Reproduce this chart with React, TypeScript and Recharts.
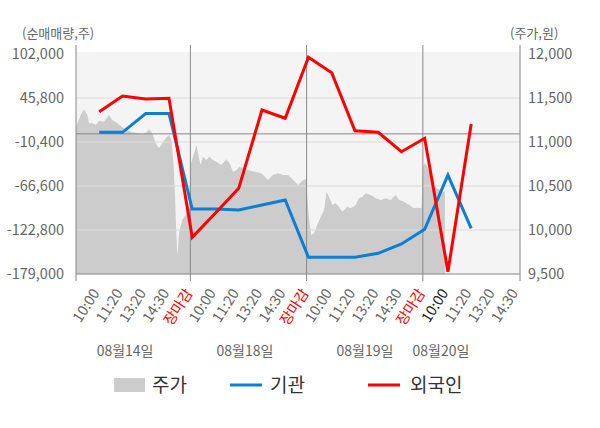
import React from 'react';
import { ComposedChart, Area, Line, XAxis, YAxis, ReferenceLine, ReferenceArea, Legend } from 'recharts';

// ---- axis ticks ----
const leftTicks = [-179000, -122800, -66600, -10400, 45800, 102000];
const rightTicks = [9500, 10000, 10500, 11000, 11500, 12000];
const leftDomain = [-179000, 113495];
const rightDomain = [9500, 12102.3];
const xDomain = [0, 19.1];

// time labels (slot positions)
const timeSlots = [1, 2, 3, 4, 5, 6, 7, 8, 9, 10, 11, 12, 13, 14, 15, 16, 17, 18, 19];
const timeLabels = [
  '10:00', '11:20', '13:20', '14:30', '장마감',
  '10:00', '11:20', '13:20', '14:30', '장마감',
  '10:00', '11:20', '13:20', '14:30', '장마감',
  '10:00', '11:20', '13:20', '14:30',
];
const currentSlot = 16;
const daySeparators = [4.92, 9.92, 14.92];
const edgeMarks = [0, 19.1];

const dateLabels = ['08월14일', '08월18일', '08월19일', '08월20일'];
const dateSlots = [2.11, 7.27, 12.43, 15.7];

// ---- net buying (순매매량) ----
const flowSlots = [1, 2, 3, 4, 5, 6, 7, 8, 9, 10, 11, 12, 13, 14, 15, 16, 17];
const institution = [2000, 2000, 26000, 26000, -96000, -96000, -97300, -90900, -84500, -157700, -157700, -157700, -152600, -140700, -121900, -52600, -120700];
const foreign = [28300, 48400, 44500, 45400, -132000, -101000, -69600, 30500, 19900, 97800, 78200, 4000, 2000, -22800, -5700, -176000, 12600];

// ---- price (주가) intraday ----
const priceSlots = [
  0, 0.06, 0.2, 0.34, 0.49, 0.56, 0.7, 0.85, 0.99, 1.2, 1.42, 1.56, 1.78, 2.06, 2.35, 2.64, 2.85, 3.0, 3.14, 3.28,
  3.43, 3.57, 3.71, 3.86, 4.0, 4.1, 4.19, 4.25, 4.3, 4.36, 4.43, 4.57, 4.72, 4.86,
  4.93, 5.08, 5.18, 5.28, 5.36, 5.46, 5.61, 5.75, 5.89, 6.04, 6.25, 6.47, 6.61, 6.75, 6.9, 7.04, 7.18, 7.4, 7.69,
  7.97, 8.26, 8.47, 8.69, 8.9, 9.12, 9.34, 9.55, 9.77, 9.91,
  9.95, 10.02, 10.12, 10.24, 10.38, 10.53, 10.67, 10.78, 10.88, 11.03, 11.17, 11.31, 11.46, 11.67, 11.82, 12.03,
  12.17, 12.32, 12.46, 12.68, 12.89, 13.11, 13.32, 13.54, 13.75, 13.89, 14.11, 14.33, 14.54, 14.68, 14.86,
  14.93, 15.0, 15.11, 15.22, 15.36, 15.5, 15.65, 15.79, 15.87,
];
const prices = [
  11174, 11212, 11307, 11372, 11307, 11212, 11216, 11193, 11242, 11231, 11307, 11250, 11212, 11156, 11117, 11099, 11088, 11099, 11144, 11099,
  10985, 10928, 10985, 11042, 11080, 11023, 10776, 10455, 10076, 9697, 9962, 10114, 10170, 10307,
  10740, 10871, 10966, 10833, 10739, 10833, 10795, 10833, 10795, 10776, 10739, 10803, 10758, 10663, 10682, 10719, 10701, 10682, 10663,
  10644, 10568, 10625, 10644, 10625, 10625, 10568, 10511, 10568, 10576,
  10378, 10133, 9943, 9962, 10057, 10152, 10227, 10436, 10378, 10284, 10303, 10265, 10208, 10265, 10246, 10284,
  10360, 10378, 10417, 10398, 10360, 10341, 10360, 10341, 10398, 10341, 10322, 10284, 10246, 10253, 10246,
  10719, 10758, 10719, 10644, 10549, 10474, 10455, 10436, 10436,
];

const priceData = priceSlots.map((t, i) => ({ t, price: prices[i] }));
const flowData = flowSlots.map((t, i) => ({ t, inst: institution[i], foreign: foreign[i] }));
const mainTicks = [...edgeMarks, ...daySeparators, ...timeSlots].sort((a, b) => a - b);

const BLUE = '#0b7fd4';
const RED = '#ff0000';
const AXIS = '#888888';
const GRID = '#dddddd';
const TEXT = '#666666';
const FONT = '"Noto Sans CJK KR", "Noto Sans", sans-serif';

const TimeTick = (props: any) => {
  const { x, y, payload } = props;
  const v = payload.value;
  if (edgeMarks.includes(v) || daySeparators.includes(v)) {
    return <line x1={x} y1={y} x2={x} y2={y + 7} stroke={AXIS} />;
  }
  const idx = timeSlots.indexOf(v);
  if (idx < 0) return <g />;
  const label = timeLabels[idx];
  const color = label === '장마감' ? RED : v === currentSlot ? '#222222' : TEXT;
  const tx = x + 1;
  const ty = y + 19;
  return (
    <text x={tx} y={ty} transform={`rotate(-57 ${tx} ${ty})`} textAnchor="end" fill={color} fontSize={14.5} fontFamily={FONT}>
      {label}
    </text>
  );
};

const DateTick = (props: any) => {
  const { x, y, payload } = props;
  const idx = dateSlots.indexOf(payload.value);
  if (idx < 0) return <g />;
  return (
    <text x={x} y={y + 18} textAnchor="middle" fill={TEXT} fontSize={14} fontFamily={FONT}>
      {dateLabels[idx]}
    </text>
  );
};

const LeftTitle = (props: any) => {
  const vb = props.viewBox || { x: 0, y: 45 };
  return (
    <text x={vb.x + 22} y={vb.y - 7} fill={TEXT} fontSize={13} fontFamily={FONT}>
      (순매매량,주)
    </text>
  );
};

const RightTitle = (props: any) => {
  const vb = props.viewBox || { x: 520, y: 45 };
  return (
    <text x={vb.x - 10} y={vb.y - 7} fill={TEXT} fontSize={13} fontFamily={FONT}>
      (주가,원)
    </text>
  );
};

const LegendContent = () => (
  <svg width={600} height={40} style={{ display: 'block' }}>
    <rect x={114} y={12} width={31} height={14} fill="#cccccc" />
    <text x={152} y={26} fontSize={19} fill="#333333" fontFamily={FONT}>주가</text>
    <line x1={230} x2={262} y1={19} y2={19} stroke={BLUE} strokeWidth={3} />
    <text x={270} y={26} fontSize={19} fill="#333333" fontFamily={FONT}>기관</text>
    <line x1={368} x2={400} y1={19} y2={19} stroke={RED} strokeWidth={3} />
    <text x={410} y={26} fontSize={19} fill="#333333" fontFamily={FONT}>외국인</text>
  </svg>
);

const fmt = (v: number) => v.toLocaleString('en-US');

export default function App() {
  return (
    <div style={{ position: 'absolute', left: 0, top: 0, width: 600, height: 428, background: '#fff', fontFamily: FONT }}>
      <ComposedChart width={600} height={428} margin={{ top: 45, right: 0, bottom: 22, left: 0 }}>
        <XAxis
          type="number"
          dataKey="t"
          domain={xDomain}
          allowDataOverflow
          ticks={mainTicks}
          interval={0}
          tick={<TimeTick />}
          tickLine={false}
          tickSize={0}
          tickMargin={0}
          height={64}
          axisLine={{ stroke: AXIS }}
        />
        <XAxis
          xAxisId="date"
          type="number"
          dataKey="t"
          domain={xDomain}
          allowDataOverflow
          ticks={dateSlots}
          interval={0}
          tick={<DateTick />}
          tickLine={false}
          tickSize={0}
          tickMargin={0}
          axisLine={false}
          height={28}
        />
        <YAxis
          yAxisId="left"
          orientation="left"
          width={76}
          domain={leftDomain}
          allowDataOverflow
          ticks={leftTicks}
          interval={0}
          tickFormatter={fmt}
          tick={{ fill: TEXT, fontSize: 14.5, fontFamily: FONT }}
          tickLine={false}
          tickSize={0}
          tickMargin={12}
          axisLine={{ stroke: AXIS }}
          label={<LeftTitle />}
        />
        <YAxis
          yAxisId="right"
          orientation="right"
          width={80}
          domain={rightDomain}
          allowDataOverflow
          ticks={rightTicks}
          interval={0}
          tickFormatter={fmt}
          tick={{ fill: TEXT, fontSize: 14.5, fontFamily: FONT }}
          tickLine={false}
          tickSize={0}
          tickMargin={8}
          axisLine={{ stroke: AXIS }}
          label={<RightTitle />}
        />
        <ReferenceArea
          yAxisId="left"
          x1={xDomain[0]}
          x2={xDomain[1]}
          y1={-179000}
          y2={104555}
          fill="#f4f4f4"
          fillOpacity={1}
          stroke="none"
          ifOverflow="visible"
        />
        <Area
          yAxisId="right"
          data={priceData}
          dataKey="price"
          type="linear"
          fill="#cccccc"
          fillOpacity={1}
          stroke="none"
          dot={false}
          activeDot={false}
          isAnimationActive={false}
          name="주가"
        />
        {leftTicks.slice(1, 5).map((v) => (
          <ReferenceLine key={v} yAxisId="left" y={v} stroke={GRID} strokeWidth={1} />
        ))}
        <ReferenceLine yAxisId="left" y={0} stroke={AXIS} strokeWidth={1} />
        {daySeparators.map((v) => (
          <ReferenceLine key={v} yAxisId="left" x={v} stroke={AXIS} strokeWidth={1} />
        ))}
        <Line
          yAxisId="left"
          data={flowData}
          dataKey="inst"
          type="linear"
          stroke={BLUE}
          strokeWidth={3}
          dot={false}
          activeDot={false}
          isAnimationActive={false}
          name="기관"
        />
        <Line
          yAxisId="left"
          data={flowData}
          dataKey="foreign"
          type="linear"
          stroke={RED}
          strokeWidth={3}
          dot={false}
          activeDot={false}
          isAnimationActive={false}
          name="외국인"
        />
        <Legend
          verticalAlign="bottom"
          align="center"
          height={40}
          content={<LegendContent />}
          wrapperStyle={{ width: 600, height: 40, left: 0 }}
        />
      </ComposedChart>
    </div>
  );
}
